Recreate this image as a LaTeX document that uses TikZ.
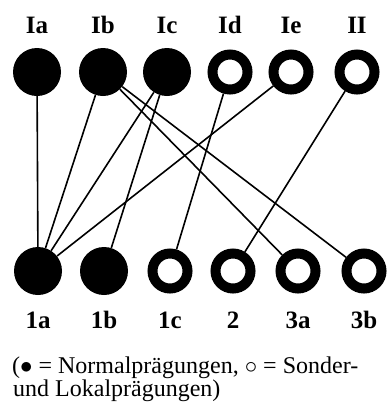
\documentclass[tikz,border=0pt]{standalone}
\usepackage{fontspec}
\setmainfont{Liberation Serif}
\begin{document}
\begin{tikzpicture}[x=1pt,y=-1pt,
    full/.style={circle,fill=black,minimum size=48pt,inner sep=0pt},
    ring/.style={circle,draw=black,fill=white,line width=10pt,minimum size=35pt,inner sep=0pt},
    lab/.style={anchor=base,font=\fontsize{25}{25}\selectfont\bfseries},
    captxt/.style={anchor=base west,inner sep=0pt,font=\fontsize{24}{24}\selectfont},
    link/.style={line width=1.6pt}]
\useasboundingbox (0,0) rectangle (386,410);
% upper row
\foreach \n/\x/\s in {Ia/37/full,Ib/103/full,Ic/167/full,Id/230/ring,Ie/291/ring,II/357/ring}{
    \node[\s] (t\n) at (\x,72) {};
    \node[lab] (lt\n) at (\x,33) {\n};
}
% lower row
\foreach \n/\x/\s in {1a/38/full,1b/104/full,1c/170/ring,2/233/ring,3a/298/ring,3b/364/ring}{
    \node[\s] (b\n) at (\x,271) {};
    \node[lab] (lb\n) at (\x,328) {\n};
}
% connections
\foreach \a/\b in {Ia/1a,Ib/1a,Ic/1a,Ie/1a,Ic/1b,Id/1c,II/2,Ib/3a,Ib/3b}
    \draw[link] (t\a) -- (b\b);
\node[captxt] (cap1) at (12,373) {($\bullet$ = Normalprägungen, $\circ$ = Sonder-};
\node[captxt] (cap2) at (13,396) {und Lokalprägungen)};
\end{tikzpicture}
\end{document}
